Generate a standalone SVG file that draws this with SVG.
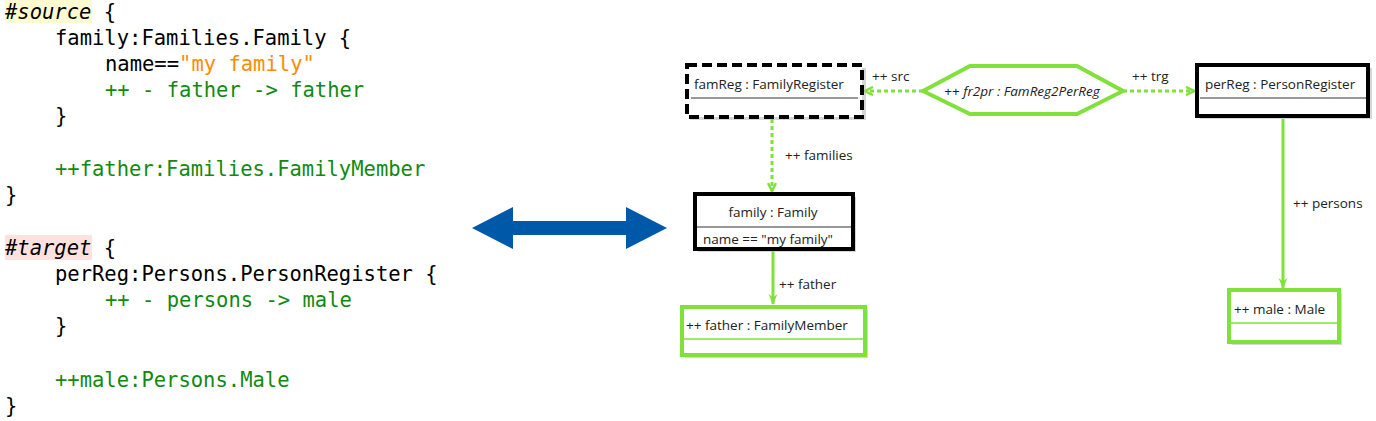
<svg xmlns="http://www.w3.org/2000/svg" width="1376" height="421" viewBox="0 0 1376 421">
<style>
.code{font-family:"DejaVu Sans Mono","Liberation Mono",monospace;font-size:20.5px;fill:#000}
.kw{font-style:italic}
.g{fill:#0f8a0f}
.o{fill:#ff8c00}
.lbl{font-family:"Open Sans","Noto Sans","Liberation Sans",sans-serif;font-size:13.5px;fill:#222}
.box{fill:#fff;stroke:#000;stroke-width:4}
.gbox{fill:#fff;stroke:#80e03c;stroke-width:4}
.sep{stroke:#333;stroke-width:1}
.gsep{stroke:#80e03c;stroke-width:1.5}
.sh{fill:#bbb;opacity:0.6}
.dot{fill:none;stroke:#80e03c;stroke-width:3;stroke-dasharray:4 3}
.sol{fill:none;stroke:#80e03c;stroke-width:3}
</style>
<defs>
<marker id="open" viewBox="0 0 10 10" refX="9" refY="5" markerWidth="10" markerHeight="10" markerUnits="userSpaceOnUse" orient="auto">
<path d="M1,1 L9,5 L1,9" fill="none" stroke="#80e03c" stroke-width="2.5"/>
</marker>
<marker id="fill" viewBox="0 0 10 10" refX="9" refY="5" markerWidth="11" markerHeight="11" markerUnits="userSpaceOnUse" orient="auto">
<path d="M0,1 L10,5 L0,9 L3,5 Z" fill="#80e03c"/>
</marker>
</defs>
<rect width="1376" height="421" fill="#fff"/>
<g id="code">
<rect x="5" y="0" width="87" height="23" fill="#fffbd0"/>
<rect x="5" y="235" width="87" height="25" fill="#ffe2df"/>
<text class="code" x="5" y="19"><tspan class="kw">#source</tspan> {</text>
<text class="code" x="55" y="45">family:Families.Family {</text>
<text class="code" x="105" y="71">name==<tspan class="o">"my family"</tspan></text>
<text class="code g" x="105" y="97">++ - father -&gt; father</text>
<text class="code" x="55" y="123">}</text>
<text class="code g" x="55" y="176">++father:Families.FamilyMember</text>
<text class="code" x="5" y="202">}</text>
<text class="code" x="5" y="255"><tspan class="kw">#target</tspan> {</text>
<text class="code" x="55" y="281">perReg:Persons.PersonRegister {</text>
<text class="code g" x="105" y="307">++ - persons -&gt; male</text>
<text class="code" x="55" y="333">}</text>
<text class="code g" x="55" y="387">++male:Persons.Male</text>
<text class="code" x="5" y="413">}</text>
</g>
<g id="bigarrow">
<path d="M472,228 L513,207 L513,221 L626,221 L626,207 L667,228 L626,249 L626,235 L513,235 L513,249 Z" fill="#0059a8"/>
</g>
<g id="connectors">
<path class="dot" d="M923,91 L865,91" marker-end="url(#open)"/>
<text class="lbl" x="872" y="81">++ src</text>
<path class="dot" d="M1123,91 L1194,91" marker-end="url(#open)"/>
<text class="lbl" x="1132" y="81">++ trg</text>
<path class="dot" d="M772,119 L772,191" marker-end="url(#open)"/>
<text class="lbl" x="785" y="160">++ families</text>
<path class="sol" d="M773,251 L773,304" marker-end="url(#fill)"/>
<text class="lbl" x="779" y="289">++ father</text>
<path class="sol" d="M1283,119 L1283,288" marker-end="url(#fill)"/>
<text class="lbl" x="1293" y="208">++ persons</text>
</g>
<g id="famReg">
<rect class="sh" x="690" y="68" width="176" height="52"/>
<rect x="687" y="65" width="175" height="52" fill="#fff" stroke="#000" stroke-width="4" stroke-dasharray="10 5"/>
<line class="sep" x1="691" y1="98" x2="858" y2="98"/>
<text class="lbl" x="694" y="89">famReg : FamilyRegister</text>
</g>
<g id="fr2pr">
<polygon points="923,91 970,66 1077,66 1123,91 1077,114 970,114" fill="#fff" stroke="#80e03c" stroke-width="4"/>
<text class="lbl" x="1022" y="96" text-anchor="middle">++ <tspan font-style="italic">fr2pr : FamReg2PerReg</tspan></text>
</g>
<g id="perReg">
<rect class="sh" x="1200" y="68" width="172" height="51"/>
<rect class="box" x="1197" y="65" width="171" height="51"/>
<line class="sep" x1="1200" y1="98" x2="1366" y2="98"/>
<text class="lbl" x="1205" y="89">perReg : PersonRegister</text>
</g>
<g id="family">
<rect class="sh" x="698" y="197" width="158" height="55"/>
<rect class="box" x="695" y="194" width="158" height="55"/>
<line class="sep" x1="697" y1="227" x2="851" y2="227"/>
<text class="lbl" x="773" y="217" text-anchor="middle">family : Family</text>
<text class="lbl" x="703" y="244">name == "my family"</text>
</g>
<g id="father">
<rect class="sh" x="685" y="310" width="183" height="48"/>
<rect class="gbox" x="682" y="307" width="183" height="48"/>
<line class="gsep" x1="684" y1="339" x2="863" y2="339"/>
<text class="lbl" x="686" y="330">++ father : FamilyMember</text>
</g>
<g id="male">
<rect class="sh" x="1232" y="293" width="110" height="52"/>
<rect class="gbox" x="1229" y="290" width="110" height="52"/>
<line class="gsep" x1="1231" y1="323" x2="1337" y2="323"/>
<text class="lbl" x="1234" y="314">++ male : Male</text>
</g>
</svg>
